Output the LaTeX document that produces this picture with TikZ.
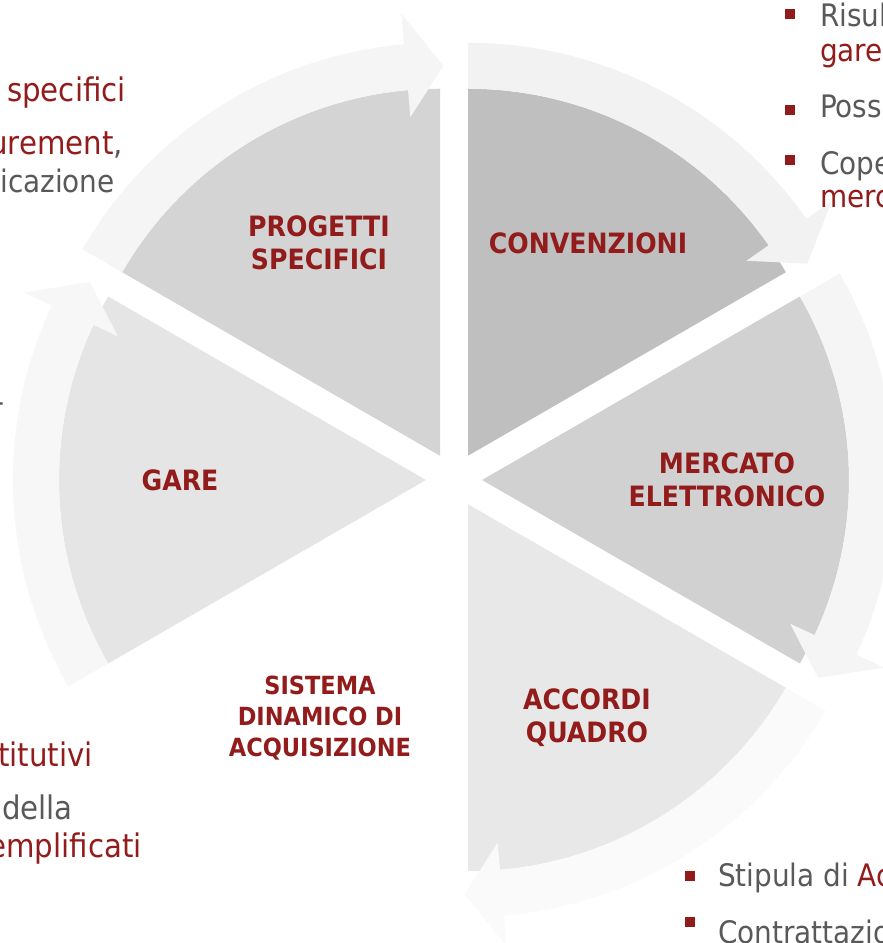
\documentclass[tikz,border=0pt]{standalone}
\usepackage{fontspec}
\setmainfont{DejaVu Sans Condensed}
\usetikzlibrary{calc}
\definecolor{darkred}{HTML}{921B1B}
\definecolor{textgray}{HTML}{595959}
\tikzset{phase/.style={text=darkred, font=\bfseries\fontsize{28}{33}\selectfont, align=center},
  note/.style={inner sep=0pt, font=\fontsize{31}{38}\selectfont, text=textgray},
  rednote/.style={note, text=darkred},
  leftnote/.style={font=\fontsize{32.5}{38}\selectfont},
  bullet/.style={fill=darkred, minimum size=10pt, inner sep=0pt}}
% one slice of the cycle: #1 = start angle, #2 = slice colour, #3 = arrow colour
\newcommand{\cycleslice}[3]{%
  \begin{scope}[shift={($(mid)+(#1+30:28)$)}]
    \fill[#2] (0,0) -- (#1:367) arc[start angle=#1, end angle=#1+60, radius=367] -- cycle;
    \fill[#3] (#1+60:367) arc[start angle=#1+60, end angle=#1+5, radius=367]
      -- (#1+5:340) -- (#1-0.5:390) -- (#1+5:444) -- (#1+5:413)
      arc[start angle=#1+5, end angle=#1+60, radius=413] -- cycle;
  \end{scope}}

\begin{document}
\begin{tikzpicture}[x=1pt, y=1pt]
    \useasboundingbox (0,0) rectangle (883,943);
    \clip (0,0) rectangle (883,943);
    \coordinate (mid) at (454,463);
    \cycleslice{90}{black!17}{black!4}
    \cycleslice{30}{black!25}{black!5}
    \cycleslice{-30}{black!18}{black!4}
    \cycleslice{-90}{black!9}{black!2}
    \cycleslice{-150}{white}{white}
    \cycleslice{150}{black!10}{black!3}
    \node[phase] (progetti) at (319,700) {PROGETTI\\SPECIFICI};
    \node[phase] (convenzioni) at (588,700) {CONVENZIONI};
    \node[phase] (mercato) at (727,463) {MERCATO\\ELETTRONICO};
    \node[phase] (accordi) at (587,225) {ACCORDI\\QUADRO};
    \node[phase, font=\bfseries\fontsize{25}{31}\selectfont] (sistema) at (320,225) {SISTEMA\\DINAMICO DI\\ACQUISIZIONE};
    \node[phase] (gare) at (180,463) {GARE};
    % text cut by the left edge
    \node[rednote, leftnote, anchor=base east] (specifici) at (126,841) {specifici};
    \node[rednote, leftnote, anchor=base east] (urement) at (123,788) {urement\textcolor{textgray}{,}};
    \node[note, anchor=base east] (icazione) at (115,750) {icazione};
    \node[note, anchor=base east] (dash) at (5,530) {-};
    \node[rednote, leftnote, anchor=base east] (titutivi) at (93,176) {titutivi};
    \node[note, leftnote, anchor=base east] (della) at (73,123) {della};
    \node[rednote, leftnote, anchor=base east] (emplificati) at (142,85) {emplificati};
    % text cut by the right edge
    \node[bullet] (b1) at (790,929) {};
    \node[note, anchor=base west] (risul) at (820,916) {Risult};
    \node[rednote, anchor=base west] (gareTxt) at (820,881) {gare};
    \node[bullet] (b2) at (790,833) {};
    \node[note, anchor=base west] (poss) at (820,825) {Possi};
    \node[bullet] (b3) at (790,783) {};
    \node[note, anchor=base west] (cope) at (820,768) {Coper};
    \node[rednote, anchor=base west] (merc) at (820,735) {merca};
    \node[bullet] (b4) at (690,67) {};
    \node[note, anchor=base west] (stipula) at (718,56) {Stipula di \textcolor{darkred}{Acc}};
    \node[bullet] (b5) at (690,21) {};
    \node[note, anchor=base west] (contratt) at (718,0) {Contrattazio};
\end{tikzpicture}
\end{document}
